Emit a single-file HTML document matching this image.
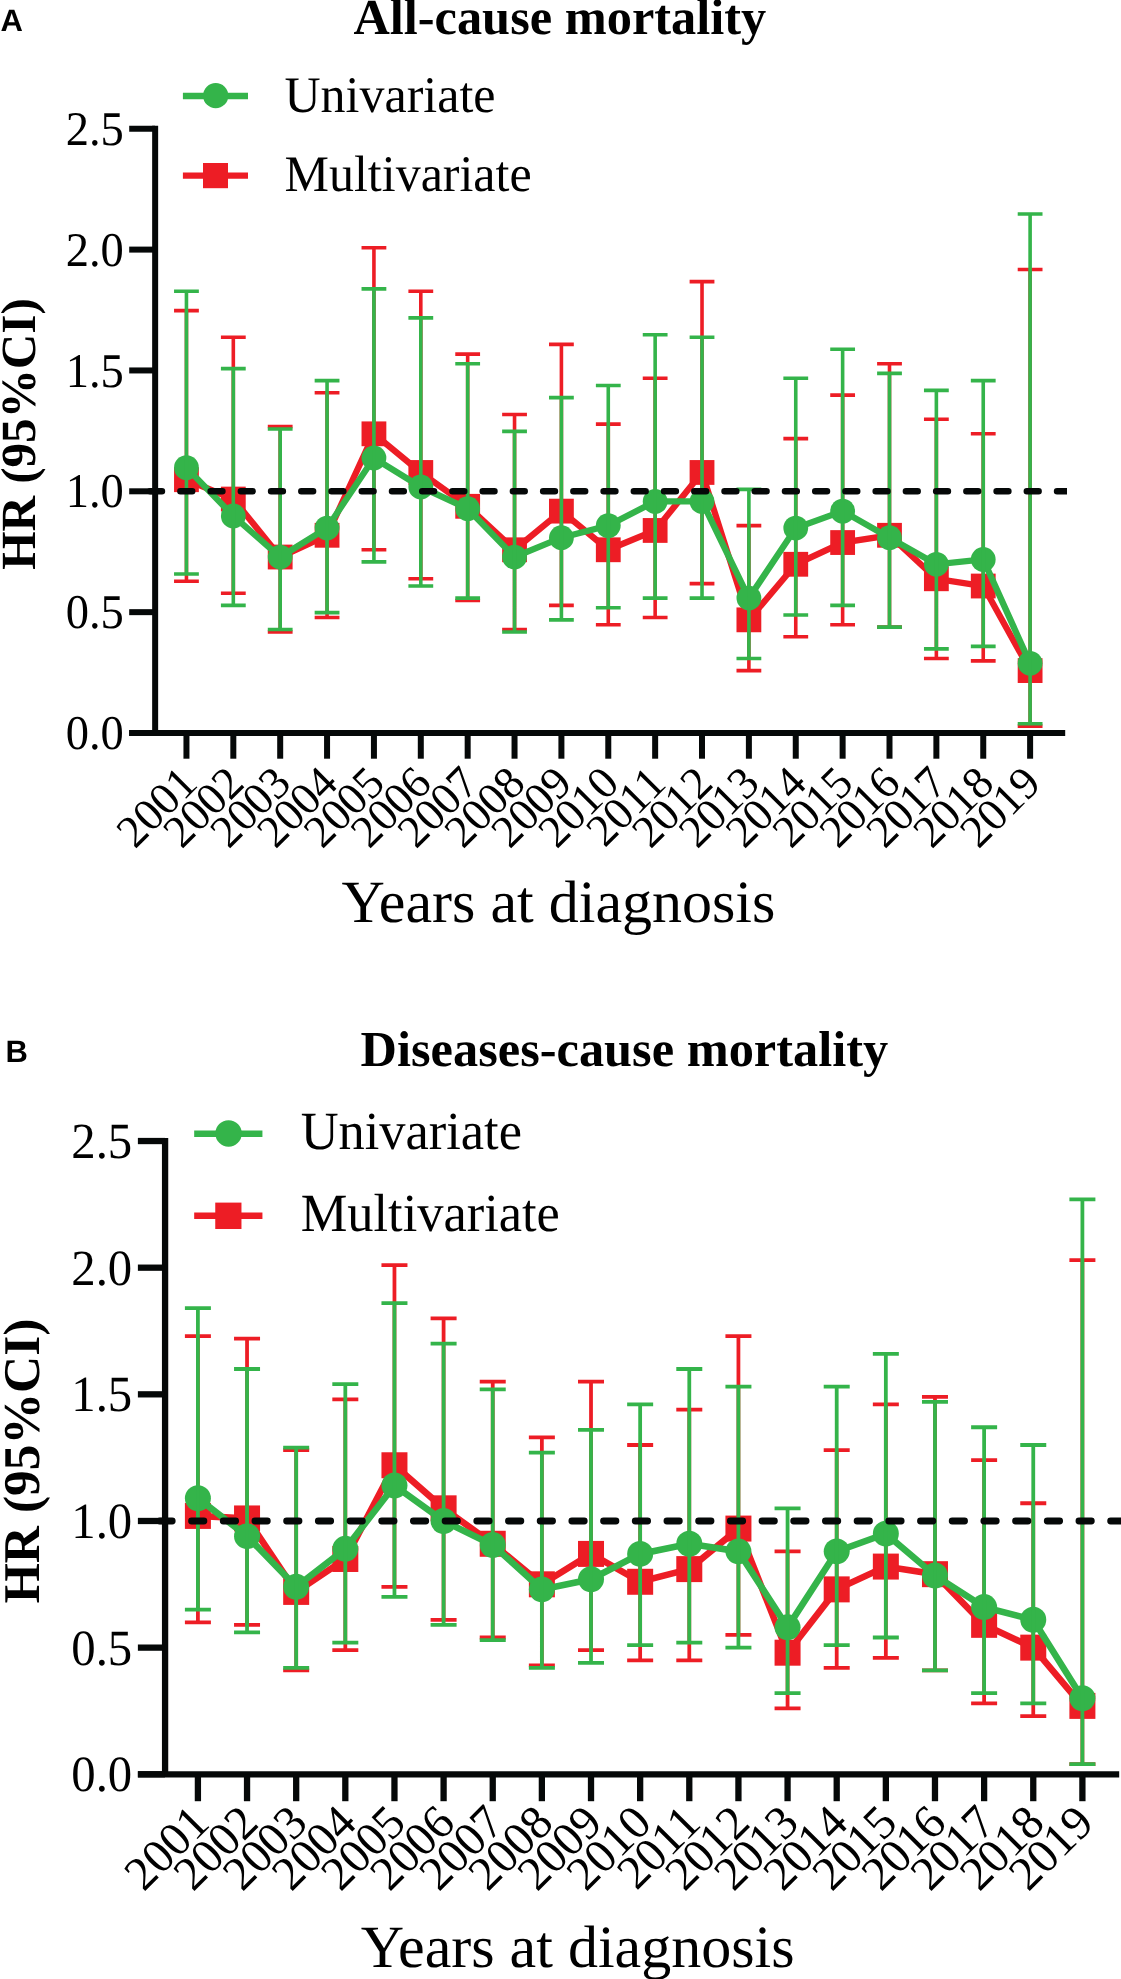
<!DOCTYPE html>
<html><head><meta charset="utf-8">
<style>
html,body{margin:0;padding:0;background:#fff;}
body{width:1121px;height:1979px;overflow:hidden;}
svg{display:block;will-change:transform;}
text{font-family:"Liberation Serif",serif;fill:#000;text-rendering:geometricPrecision;}
.yl{font-size:46.5px;}
.xl{font-size:45.5px;}
.lg{font-size:50px;}
.yt{font-size:49.13px;font-weight:bold;}
.ti{font-size:50.4px;font-weight:bold;}
.xt{font-size:60px;}
.pl{font-family:"Liberation Sans",sans-serif;font-size:31px;font-weight:bold;}
</style></head><body>
<svg width="1121" height="1979" viewBox="0 0 1121 1979">
<defs><clipPath id="clipR"><rect x="0" y="0" width="1067" height="1979"/></clipPath></defs>
<rect width="1121" height="1979" fill="#fff"/>
<text x="0.5" y="30.8" class="pl">A</text>
<text x="353.4" y="33.5" class="ti">All-cause mortality</text>
<g>
<path d="M155.15 125.75 V733.0" stroke="#050808" stroke-width="6.0" fill="none"/>
<path d="M129.2 733.0 H1065.2" stroke="#050808" stroke-width="6.0" fill="none"/>
<path d="M129.2 733 H155" stroke="#050808" stroke-width="6.0" fill="none"/>
<path d="M129.2 612.15 H155" stroke="#050808" stroke-width="6.0" fill="none"/>
<path d="M129.2 491.3 H155" stroke="#050808" stroke-width="6.0" fill="none"/>
<path d="M129.2 370.45 H155" stroke="#050808" stroke-width="6.0" fill="none"/>
<path d="M129.2 249.6 H155" stroke="#050808" stroke-width="6.0" fill="none"/>
<path d="M129.2 128.75 H155" stroke="#050808" stroke-width="6.0" fill="none"/>
<path d="M186.45 733.0 V758.7" stroke="#050808" stroke-width="6.0" fill="none"/>
<path d="M233.32 733.0 V758.7" stroke="#050808" stroke-width="6.0" fill="none"/>
<path d="M280.19 733.0 V758.7" stroke="#050808" stroke-width="6.0" fill="none"/>
<path d="M327.06 733.0 V758.7" stroke="#050808" stroke-width="6.0" fill="none"/>
<path d="M373.93 733.0 V758.7" stroke="#050808" stroke-width="6.0" fill="none"/>
<path d="M420.8 733.0 V758.7" stroke="#050808" stroke-width="6.0" fill="none"/>
<path d="M467.67 733.0 V758.7" stroke="#050808" stroke-width="6.0" fill="none"/>
<path d="M514.54 733.0 V758.7" stroke="#050808" stroke-width="6.0" fill="none"/>
<path d="M561.41 733.0 V758.7" stroke="#050808" stroke-width="6.0" fill="none"/>
<path d="M608.28 733.0 V758.7" stroke="#050808" stroke-width="6.0" fill="none"/>
<path d="M655.15 733.0 V758.7" stroke="#050808" stroke-width="6.0" fill="none"/>
<path d="M702.02 733.0 V758.7" stroke="#050808" stroke-width="6.0" fill="none"/>
<path d="M748.89 733.0 V758.7" stroke="#050808" stroke-width="6.0" fill="none"/>
<path d="M795.76 733.0 V758.7" stroke="#050808" stroke-width="6.0" fill="none"/>
<path d="M842.63 733.0 V758.7" stroke="#050808" stroke-width="6.0" fill="none"/>
<path d="M889.5 733.0 V758.7" stroke="#050808" stroke-width="6.0" fill="none"/>
<path d="M936.37 733.0 V758.7" stroke="#050808" stroke-width="6.0" fill="none"/>
<path d="M983.24 733.0 V758.7" stroke="#050808" stroke-width="6.0" fill="none"/>
<path d="M1030.11 733.0 V758.7" stroke="#050808" stroke-width="6.0" fill="none"/>
<text x="0" y="0" text-anchor="end" class="yl" transform="translate(123.8 749.1) scale(1 1.04)">0.0</text>
<text x="0" y="0" text-anchor="end" class="yl" transform="translate(123.8 628.25) scale(1 1.04)">0.5</text>
<text x="0" y="0" text-anchor="end" class="yl" transform="translate(123.8 507.4) scale(1 1.04)">1.0</text>
<text x="0" y="0" text-anchor="end" class="yl" transform="translate(123.8 386.55) scale(1 1.04)">1.5</text>
<text x="0" y="0" text-anchor="end" class="yl" transform="translate(123.8 265.7) scale(1 1.04)">2.0</text>
<text x="0" y="0" text-anchor="end" class="yl" transform="translate(123.8 144.85) scale(1 1.04)">2.5</text>
<text x="199.25" y="785.3" text-anchor="end" class="xl" transform="rotate(-45 199.25 785.3)">2001</text>
<text x="246.12" y="785.3" text-anchor="end" class="xl" transform="rotate(-45 246.12 785.3)">2002</text>
<text x="292.99" y="785.3" text-anchor="end" class="xl" transform="rotate(-45 292.99 785.3)">2003</text>
<text x="339.86" y="785.3" text-anchor="end" class="xl" transform="rotate(-45 339.86 785.3)">2004</text>
<text x="386.73" y="785.3" text-anchor="end" class="xl" transform="rotate(-45 386.73 785.3)">2005</text>
<text x="433.6" y="785.3" text-anchor="end" class="xl" transform="rotate(-45 433.6 785.3)">2006</text>
<text x="480.47" y="785.3" text-anchor="end" class="xl" transform="rotate(-45 480.47 785.3)">2007</text>
<text x="527.34" y="785.3" text-anchor="end" class="xl" transform="rotate(-45 527.34 785.3)">2008</text>
<text x="574.21" y="785.3" text-anchor="end" class="xl" transform="rotate(-45 574.21 785.3)">2009</text>
<text x="621.08" y="785.3" text-anchor="end" class="xl" transform="rotate(-45 621.08 785.3)">2010</text>
<text x="667.95" y="785.3" text-anchor="end" class="xl" transform="rotate(-45 667.95 785.3)">2011</text>
<text x="714.82" y="785.3" text-anchor="end" class="xl" transform="rotate(-45 714.82 785.3)">2012</text>
<text x="761.69" y="785.3" text-anchor="end" class="xl" transform="rotate(-45 761.69 785.3)">2013</text>
<text x="808.56" y="785.3" text-anchor="end" class="xl" transform="rotate(-45 808.56 785.3)">2014</text>
<text x="855.43" y="785.3" text-anchor="end" class="xl" transform="rotate(-45 855.43 785.3)">2015</text>
<text x="902.3" y="785.3" text-anchor="end" class="xl" transform="rotate(-45 902.3 785.3)">2016</text>
<text x="949.17" y="785.3" text-anchor="end" class="xl" transform="rotate(-45 949.17 785.3)">2017</text>
<text x="996.04" y="785.3" text-anchor="end" class="xl" transform="rotate(-45 996.04 785.3)">2018</text>
<text x="1042.91" y="785.3" text-anchor="end" class="xl" transform="rotate(-45 1042.91 785.3)">2019</text>
<polyline points="186.45,479.72 233.32,499.05 280.19,557.03 327.06,535.29 373.93,433.82 420.8,472.47 467.67,506.3 514.54,549.78 561.41,511.13 608.28,549.78 655.15,530.46 702.02,472.47 748.89,619.85 795.76,564.28 842.63,542.54 889.5,535.29 936.37,578.78 983.24,586.02 1030.11,670.58" fill="none" stroke="#ed1d25" stroke-width="6.3" stroke-linejoin="miter"/>
<rect x="174.05" y="467.32" width="24.8" height="24.8" fill="#ed1d25"/>
<rect x="220.92" y="486.65" width="24.8" height="24.8" fill="#ed1d25"/>
<rect x="267.79" y="544.63" width="24.8" height="24.8" fill="#ed1d25"/>
<rect x="314.66" y="522.89" width="24.8" height="24.8" fill="#ed1d25"/>
<rect x="361.53" y="421.42" width="24.8" height="24.8" fill="#ed1d25"/>
<rect x="408.4" y="460.07" width="24.8" height="24.8" fill="#ed1d25"/>
<rect x="455.27" y="493.9" width="24.8" height="24.8" fill="#ed1d25"/>
<rect x="502.14" y="537.38" width="24.8" height="24.8" fill="#ed1d25"/>
<rect x="549.01" y="498.73" width="24.8" height="24.8" fill="#ed1d25"/>
<rect x="595.88" y="537.38" width="24.8" height="24.8" fill="#ed1d25"/>
<rect x="642.75" y="518.06" width="24.8" height="24.8" fill="#ed1d25"/>
<rect x="689.62" y="460.07" width="24.8" height="24.8" fill="#ed1d25"/>
<rect x="736.49" y="607.45" width="24.8" height="24.8" fill="#ed1d25"/>
<rect x="783.36" y="551.88" width="24.8" height="24.8" fill="#ed1d25"/>
<rect x="830.23" y="530.14" width="24.8" height="24.8" fill="#ed1d25"/>
<rect x="877.1" y="522.89" width="24.8" height="24.8" fill="#ed1d25"/>
<rect x="923.97" y="566.38" width="24.8" height="24.8" fill="#ed1d25"/>
<rect x="970.84" y="573.62" width="24.8" height="24.8" fill="#ed1d25"/>
<rect x="1017.71" y="658.18" width="24.8" height="24.8" fill="#ed1d25"/>
<path d="M186.45 581.19 V310.6 M175.85 310.6 H197.05 M175.85 581.19 H197.05 M233.32 593.27 V337.18 M222.72 337.18 H243.92 M222.72 593.27 H243.92 M280.19 631.93 V426.57 M269.59 426.57 H290.79 M269.59 631.93 H290.79 M327.06 617.43 V392.74 M316.46 392.74 H337.66 M316.46 617.43 H337.66 M373.93 549.78 V247.78 M363.33 247.78 H384.53 M363.33 549.78 H384.53 M420.8 578.78 V291.27 M410.2 291.27 H431.4 M410.2 578.78 H431.4 M467.67 600.52 V354.09 M457.07 354.09 H478.27 M457.07 600.52 H478.27 M514.54 629.51 V414.49 M503.94 414.49 H525.14 M503.94 629.51 H525.14 M561.41 605.35 V344.42 M550.81 344.42 H572.01 M550.81 605.35 H572.01 M608.28 624.68 V424.15 M597.68 424.15 H618.88 M597.68 624.68 H618.88 M655.15 617.43 V378.25 M644.55 378.25 H665.75 M644.55 617.43 H665.75 M702.02 583.61 V281.61 M691.42 281.61 H712.62 M691.42 583.61 H712.62 M748.89 670.58 V525.62 M738.29 525.62 H759.49 M738.29 670.58 H759.49 M795.76 636.76 V438.65 M785.16 438.65 H806.36 M785.16 636.76 H806.36 M842.63 624.68 V395.16 M832.03 395.16 H853.23 M832.03 624.68 H853.23 M889.5 627.1 V363.75 M878.9 363.75 H900.1 M878.9 627.1 H900.1 M936.37 658.5 V419.32 M925.77 419.32 H946.97 M925.77 658.5 H946.97 M983.24 660.92 V433.82 M972.64 433.82 H993.84 M972.64 660.92 H993.84 M1030.11 726.15 V269.53 M1019.51 269.53 H1040.71 M1019.51 726.15 H1040.71" fill="none" stroke="#ed1d25" stroke-width="3.6" stroke-linecap="square"/>
<polyline points="186.45,467.64 233.32,515.96 280.19,557.03 327.06,528.04 373.93,457.98 420.8,486.97 467.67,508.71 514.54,557.03 561.41,537.7 608.28,525.62 655.15,501.46 702.02,501.46 748.89,598.1 795.76,528.04 842.63,511.13 889.5,537.7 936.37,564.28 983.24,559.45 1030.11,663.34" fill="none" stroke="#34b44a" stroke-width="6.3" stroke-linejoin="miter"/>
<circle cx="186.45" cy="467.64" r="12.4" fill="#34b44a"/>
<circle cx="233.32" cy="515.96" r="12.4" fill="#34b44a"/>
<circle cx="280.19" cy="557.03" r="12.4" fill="#34b44a"/>
<circle cx="327.06" cy="528.04" r="12.4" fill="#34b44a"/>
<circle cx="373.93" cy="457.98" r="12.4" fill="#34b44a"/>
<circle cx="420.8" cy="486.97" r="12.4" fill="#34b44a"/>
<circle cx="467.67" cy="508.71" r="12.4" fill="#34b44a"/>
<circle cx="514.54" cy="557.03" r="12.4" fill="#34b44a"/>
<circle cx="561.41" cy="537.7" r="12.4" fill="#34b44a"/>
<circle cx="608.28" cy="525.62" r="12.4" fill="#34b44a"/>
<circle cx="655.15" cy="501.46" r="12.4" fill="#34b44a"/>
<circle cx="702.02" cy="501.46" r="12.4" fill="#34b44a"/>
<circle cx="748.89" cy="598.1" r="12.4" fill="#34b44a"/>
<circle cx="795.76" cy="528.04" r="12.4" fill="#34b44a"/>
<circle cx="842.63" cy="511.13" r="12.4" fill="#34b44a"/>
<circle cx="889.5" cy="537.7" r="12.4" fill="#34b44a"/>
<circle cx="936.37" cy="564.28" r="12.4" fill="#34b44a"/>
<circle cx="983.24" cy="559.45" r="12.4" fill="#34b44a"/>
<circle cx="1030.11" cy="663.34" r="12.4" fill="#34b44a"/>
<path d="M186.45 573.94 V291.27 M175.85 291.27 H197.05 M175.85 573.94 H197.05 M233.32 605.35 V368.58 M222.72 368.58 H243.92 M222.72 605.35 H243.92 M280.19 629.51 V428.98 M269.59 428.98 H290.79 M269.59 629.51 H290.79 M327.06 612.6 V380.66 M316.46 380.66 H337.66 M316.46 612.6 H337.66 M373.93 561.86 V288.86 M363.33 288.86 H384.53 M363.33 561.86 H384.53 M420.8 586.02 V317.85 M410.2 317.85 H431.4 M410.2 586.02 H431.4 M467.67 598.1 V363.75 M457.07 363.75 H478.27 M457.07 598.1 H478.27 M514.54 631.93 V431.4 M503.94 431.4 H525.14 M503.94 631.93 H525.14 M561.41 619.85 V397.58 M550.81 397.58 H572.01 M550.81 619.85 H572.01 M608.28 607.77 V385.5 M597.68 385.5 H618.88 M597.68 607.77 H618.88 M655.15 598.1 V334.76 M644.55 334.76 H665.75 M644.55 598.1 H665.75 M702.02 598.1 V337.18 M691.42 337.18 H712.62 M691.42 598.1 H712.62 M748.89 658.5 V489.38 M738.29 489.38 H759.49 M738.29 658.5 H759.49 M795.76 615.02 V378.25 M785.16 378.25 H806.36 M785.16 615.02 H806.36 M842.63 605.35 V349.26 M832.03 349.26 H853.23 M832.03 605.35 H853.23 M889.5 627.1 V373.42 M878.9 373.42 H900.1 M878.9 627.1 H900.1 M936.37 648.84 V390.33 M925.77 390.33 H946.97 M925.77 648.84 H946.97 M983.24 646.42 V380.66 M972.64 380.66 H993.84 M972.64 646.42 H993.84 M1030.11 723.74 V213.96 M1019.51 213.96 H1040.71 M1019.51 723.74 H1040.71" fill="none" stroke="#34b44a" stroke-width="3.6" stroke-linecap="square"/>
<path d="M150.15 491.3 H1075" stroke="#050808" stroke-width="6.5" stroke-dasharray="11.8 18.43" stroke-linecap="round" fill="none" clip-path="url(#clipR)"/>
<path d="M182.9 96 H248" stroke="#34b44a" stroke-width="6.3"/>
<circle cx="215.7" cy="95.7" r="12.6" fill="#34b44a"/>
<path d="M182.9 175.6 H248" stroke="#ed1d25" stroke-width="6.3"/>
<rect x="203" y="163" width="25" height="25.2" fill="#ed1d25"/>
<text x="0" y="0" class="lg" transform="translate(284.5 111.6) scale(1 1.025)">Univariate</text>
<text x="0" y="0" class="lg" transform="translate(284.5 190.5) scale(1 1.025)">Multivariate</text>
<text x="0" y="0" class="yt" text-anchor="middle" transform="translate(35.3 434.0) rotate(-90)">HR (95%CI)</text>
</g>
<text x="341.5" y="922.4" class="xt">Years at diagnosis</text>
<text x="5.5" y="1061.8" class="pl">B</text>
<text x="360.6" y="1066.2" class="ti">Diseases-cause mortality</text>
<g transform="matrix(1.0484 0 0 1.048 2.43 1006.1)">
<path d="M155.15 125.75 V733.0" stroke="#050808" stroke-width="6.0" fill="none"/>
<path d="M129.2 733.0 H1065.2" stroke="#050808" stroke-width="6.0" fill="none"/>
<path d="M129.2 733 H155" stroke="#050808" stroke-width="6.0" fill="none"/>
<path d="M129.2 612.15 H155" stroke="#050808" stroke-width="6.0" fill="none"/>
<path d="M129.2 491.3 H155" stroke="#050808" stroke-width="6.0" fill="none"/>
<path d="M129.2 370.45 H155" stroke="#050808" stroke-width="6.0" fill="none"/>
<path d="M129.2 249.6 H155" stroke="#050808" stroke-width="6.0" fill="none"/>
<path d="M129.2 128.75 H155" stroke="#050808" stroke-width="6.0" fill="none"/>
<path d="M186.45 733.0 V758.7" stroke="#050808" stroke-width="6.0" fill="none"/>
<path d="M233.32 733.0 V758.7" stroke="#050808" stroke-width="6.0" fill="none"/>
<path d="M280.19 733.0 V758.7" stroke="#050808" stroke-width="6.0" fill="none"/>
<path d="M327.06 733.0 V758.7" stroke="#050808" stroke-width="6.0" fill="none"/>
<path d="M373.93 733.0 V758.7" stroke="#050808" stroke-width="6.0" fill="none"/>
<path d="M420.8 733.0 V758.7" stroke="#050808" stroke-width="6.0" fill="none"/>
<path d="M467.67 733.0 V758.7" stroke="#050808" stroke-width="6.0" fill="none"/>
<path d="M514.54 733.0 V758.7" stroke="#050808" stroke-width="6.0" fill="none"/>
<path d="M561.41 733.0 V758.7" stroke="#050808" stroke-width="6.0" fill="none"/>
<path d="M608.28 733.0 V758.7" stroke="#050808" stroke-width="6.0" fill="none"/>
<path d="M655.15 733.0 V758.7" stroke="#050808" stroke-width="6.0" fill="none"/>
<path d="M702.02 733.0 V758.7" stroke="#050808" stroke-width="6.0" fill="none"/>
<path d="M748.89 733.0 V758.7" stroke="#050808" stroke-width="6.0" fill="none"/>
<path d="M795.76 733.0 V758.7" stroke="#050808" stroke-width="6.0" fill="none"/>
<path d="M842.63 733.0 V758.7" stroke="#050808" stroke-width="6.0" fill="none"/>
<path d="M889.5 733.0 V758.7" stroke="#050808" stroke-width="6.0" fill="none"/>
<path d="M936.37 733.0 V758.7" stroke="#050808" stroke-width="6.0" fill="none"/>
<path d="M983.24 733.0 V758.7" stroke="#050808" stroke-width="6.0" fill="none"/>
<path d="M1030.11 733.0 V758.7" stroke="#050808" stroke-width="6.0" fill="none"/>
<text x="0" y="0" text-anchor="end" class="yl" transform="translate(123.8 749.1) scale(1 1.04)">0.0</text>
<text x="0" y="0" text-anchor="end" class="yl" transform="translate(123.8 628.25) scale(1 1.04)">0.5</text>
<text x="0" y="0" text-anchor="end" class="yl" transform="translate(123.8 507.4) scale(1 1.04)">1.0</text>
<text x="0" y="0" text-anchor="end" class="yl" transform="translate(123.8 386.55) scale(1 1.04)">1.5</text>
<text x="0" y="0" text-anchor="end" class="yl" transform="translate(123.8 265.7) scale(1 1.04)">2.0</text>
<text x="0" y="0" text-anchor="end" class="yl" transform="translate(123.8 144.85) scale(1 1.04)">2.5</text>
<text x="199.25" y="781.5" text-anchor="end" class="xl" transform="rotate(-45 199.25 781.5)">2001</text>
<text x="246.12" y="781.5" text-anchor="end" class="xl" transform="rotate(-45 246.12 781.5)">2002</text>
<text x="292.99" y="781.5" text-anchor="end" class="xl" transform="rotate(-45 292.99 781.5)">2003</text>
<text x="339.86" y="781.5" text-anchor="end" class="xl" transform="rotate(-45 339.86 781.5)">2004</text>
<text x="386.73" y="781.5" text-anchor="end" class="xl" transform="rotate(-45 386.73 781.5)">2005</text>
<text x="433.6" y="781.5" text-anchor="end" class="xl" transform="rotate(-45 433.6 781.5)">2006</text>
<text x="480.47" y="781.5" text-anchor="end" class="xl" transform="rotate(-45 480.47 781.5)">2007</text>
<text x="527.34" y="781.5" text-anchor="end" class="xl" transform="rotate(-45 527.34 781.5)">2008</text>
<text x="574.21" y="781.5" text-anchor="end" class="xl" transform="rotate(-45 574.21 781.5)">2009</text>
<text x="621.08" y="781.5" text-anchor="end" class="xl" transform="rotate(-45 621.08 781.5)">2010</text>
<text x="667.95" y="781.5" text-anchor="end" class="xl" transform="rotate(-45 667.95 781.5)">2011</text>
<text x="714.82" y="781.5" text-anchor="end" class="xl" transform="rotate(-45 714.82 781.5)">2012</text>
<text x="761.69" y="781.5" text-anchor="end" class="xl" transform="rotate(-45 761.69 781.5)">2013</text>
<text x="808.56" y="781.5" text-anchor="end" class="xl" transform="rotate(-45 808.56 781.5)">2014</text>
<text x="855.43" y="781.5" text-anchor="end" class="xl" transform="rotate(-45 855.43 781.5)">2015</text>
<text x="902.3" y="781.5" text-anchor="end" class="xl" transform="rotate(-45 902.3 781.5)">2016</text>
<text x="949.17" y="781.5" text-anchor="end" class="xl" transform="rotate(-45 949.17 781.5)">2017</text>
<text x="996.04" y="781.5" text-anchor="end" class="xl" transform="rotate(-45 996.04 781.5)">2018</text>
<text x="1042.91" y="781.5" text-anchor="end" class="xl" transform="rotate(-45 1042.91 781.5)">2019</text>
<polyline points="186.45,486.47 233.32,488.88 280.19,558.98 327.06,527.56 373.93,438.13 420.8,479.22 467.67,513.05 514.54,551.73 561.41,522.72 608.28,549.31 655.15,537.22 702.02,498.55 748.89,616.98 795.76,556.56 842.63,534.81 889.5,542.06 936.37,590.4 983.24,612.15 1030.11,667.74" fill="none" stroke="#ed1d25" stroke-width="6.3" stroke-linejoin="miter"/>
<rect x="174.05" y="474.07" width="24.8" height="24.8" fill="#ed1d25"/>
<rect x="220.92" y="476.48" width="24.8" height="24.8" fill="#ed1d25"/>
<rect x="267.79" y="546.58" width="24.8" height="24.8" fill="#ed1d25"/>
<rect x="314.66" y="515.16" width="24.8" height="24.8" fill="#ed1d25"/>
<rect x="361.53" y="425.73" width="24.8" height="24.8" fill="#ed1d25"/>
<rect x="408.4" y="466.82" width="24.8" height="24.8" fill="#ed1d25"/>
<rect x="455.27" y="500.65" width="24.8" height="24.8" fill="#ed1d25"/>
<rect x="502.14" y="539.33" width="24.8" height="24.8" fill="#ed1d25"/>
<rect x="549.01" y="510.32" width="24.8" height="24.8" fill="#ed1d25"/>
<rect x="595.88" y="536.91" width="24.8" height="24.8" fill="#ed1d25"/>
<rect x="642.75" y="524.82" width="24.8" height="24.8" fill="#ed1d25"/>
<rect x="689.62" y="486.15" width="24.8" height="24.8" fill="#ed1d25"/>
<rect x="736.49" y="604.58" width="24.8" height="24.8" fill="#ed1d25"/>
<rect x="783.36" y="544.16" width="24.8" height="24.8" fill="#ed1d25"/>
<rect x="830.23" y="522.41" width="24.8" height="24.8" fill="#ed1d25"/>
<rect x="877.1" y="529.66" width="24.8" height="24.8" fill="#ed1d25"/>
<rect x="923.97" y="578" width="24.8" height="24.8" fill="#ed1d25"/>
<rect x="970.84" y="599.75" width="24.8" height="24.8" fill="#ed1d25"/>
<rect x="1017.71" y="655.34" width="24.8" height="24.8" fill="#ed1d25"/>
<path d="M186.45 587.98 V314.86 M175.85 314.86 H197.05 M175.85 587.98 H197.05 M233.32 590.4 V317.28 M222.72 317.28 H243.92 M222.72 590.4 H243.92 M280.19 633.9 V423.62 M269.59 423.62 H290.79 M269.59 633.9 H290.79 M327.06 614.57 V375.28 M316.46 375.28 H337.66 M316.46 614.57 H337.66 M373.93 554.14 V247.18 M363.33 247.18 H384.53 M363.33 554.14 H384.53 M420.8 585.56 V297.94 M410.2 297.94 H431.4 M410.2 585.56 H431.4 M467.67 602.48 V358.37 M457.07 358.37 H478.27 M457.07 602.48 H478.27 M514.54 629.07 V411.54 M503.94 411.54 H525.14 M503.94 629.07 H525.14 M561.41 614.57 V358.37 M550.81 358.37 H572.01 M550.81 614.57 H572.01 M608.28 624.24 V418.79 M597.68 418.79 H618.88 M597.68 624.24 H618.88 M655.15 624.24 V384.95 M644.55 384.95 H665.75 M644.55 624.24 H665.75 M702.02 600.07 V314.86 M691.42 314.86 H712.62 M691.42 600.07 H712.62 M748.89 670.16 V520.3 M738.29 520.3 H759.49 M738.29 670.16 H759.49 M795.76 631.49 V423.62 M785.16 423.62 H806.36 M785.16 631.49 H806.36 M842.63 621.82 V380.12 M832.03 380.12 H853.23 M832.03 621.82 H853.23 M889.5 633.9 V372.87 M878.9 372.87 H900.1 M878.9 633.9 H900.1 M936.37 665.32 V433.29 M925.77 433.29 H946.97 M925.77 665.32 H946.97 M983.24 677.41 V474.38 M972.64 474.38 H993.84 M972.64 677.41 H993.84 M1030.11 723.33 V242.35 M1019.51 242.35 H1040.71 M1019.51 723.33 H1040.71" fill="none" stroke="#ed1d25" stroke-width="3.6" stroke-linecap="square"/>
<polyline points="186.45,469.55 233.32,505.8 280.19,554.14 327.06,517.89 373.93,457.46 420.8,491.3 467.67,514.26 514.54,556.56 561.41,546.89 608.28,522.72 655.15,513.05 702.02,520.3 748.89,592.81 795.76,520.3 842.63,503.38 889.5,543.27 936.37,573.48 983.24,585.56 1030.11,660.49" fill="none" stroke="#34b44a" stroke-width="6.3" stroke-linejoin="miter"/>
<circle cx="186.45" cy="469.55" r="12.4" fill="#34b44a"/>
<circle cx="233.32" cy="505.8" r="12.4" fill="#34b44a"/>
<circle cx="280.19" cy="554.14" r="12.4" fill="#34b44a"/>
<circle cx="327.06" cy="517.89" r="12.4" fill="#34b44a"/>
<circle cx="373.93" cy="457.46" r="12.4" fill="#34b44a"/>
<circle cx="420.8" cy="491.3" r="12.4" fill="#34b44a"/>
<circle cx="467.67" cy="514.26" r="12.4" fill="#34b44a"/>
<circle cx="514.54" cy="556.56" r="12.4" fill="#34b44a"/>
<circle cx="561.41" cy="546.89" r="12.4" fill="#34b44a"/>
<circle cx="608.28" cy="522.72" r="12.4" fill="#34b44a"/>
<circle cx="655.15" cy="513.05" r="12.4" fill="#34b44a"/>
<circle cx="702.02" cy="520.3" r="12.4" fill="#34b44a"/>
<circle cx="748.89" cy="592.81" r="12.4" fill="#34b44a"/>
<circle cx="795.76" cy="520.3" r="12.4" fill="#34b44a"/>
<circle cx="842.63" cy="503.38" r="12.4" fill="#34b44a"/>
<circle cx="889.5" cy="543.27" r="12.4" fill="#34b44a"/>
<circle cx="936.37" cy="573.48" r="12.4" fill="#34b44a"/>
<circle cx="983.24" cy="585.56" r="12.4" fill="#34b44a"/>
<circle cx="1030.11" cy="660.49" r="12.4" fill="#34b44a"/>
<path d="M186.45 575.89 V288.27 M175.85 288.27 H197.05 M175.85 575.89 H197.05 M233.32 597.65 V346.28 M222.72 346.28 H243.92 M222.72 597.65 H243.92 M280.19 631.49 V421.21 M269.59 421.21 H290.79 M269.59 631.49 H290.79 M327.06 607.32 V360.78 M316.46 360.78 H337.66 M316.46 607.32 H337.66 M373.93 563.81 V283.44 M363.33 283.44 H384.53 M363.33 563.81 H384.53 M420.8 590.4 V322.11 M410.2 322.11 H431.4 M410.2 590.4 H431.4 M467.67 604.9 V365.62 M457.07 365.62 H478.27 M457.07 604.9 H478.27 M514.54 631.49 V426.04 M503.94 426.04 H525.14 M503.94 631.49 H525.14 M561.41 626.65 V404.29 M550.81 404.29 H572.01 M550.81 626.65 H572.01 M608.28 609.73 V380.12 M597.68 380.12 H618.88 M597.68 609.73 H618.88 M655.15 607.32 V346.28 M644.55 346.28 H665.75 M644.55 607.32 H665.75 M702.02 612.15 V363.2 M691.42 363.2 H712.62 M691.42 612.15 H712.62 M748.89 655.66 V479.22 M738.29 479.22 H759.49 M738.29 655.66 H759.49 M795.76 609.73 V363.2 M785.16 363.2 H806.36 M785.16 609.73 H806.36 M842.63 602.48 V331.78 M832.03 331.78 H853.23 M832.03 602.48 H853.23 M889.5 633.9 V377.7 M878.9 377.7 H900.1 M878.9 633.9 H900.1 M936.37 655.66 V401.87 M925.77 401.87 H946.97 M925.77 655.66 H946.97 M983.24 665.32 V418.79 M972.64 418.79 H993.84 M972.64 665.32 H993.84 M1030.11 723.33 V184.34 M1019.51 184.34 H1040.71 M1019.51 723.33 H1040.71" fill="none" stroke="#34b44a" stroke-width="3.6" stroke-linecap="square"/>
<path d="M150.15 491.3 H1075" stroke="#050808" stroke-width="6.5" stroke-dasharray="11.8 18.43" stroke-linecap="round" fill="none" clip-path="url(#clipR)"/>
<path d="M182.9 121.8 H248" stroke="#34b44a" stroke-width="6.3"/>
<circle cx="215.7" cy="121.5" r="12.6" fill="#34b44a"/>
<path d="M182.9 200.1 H248" stroke="#ed1d25" stroke-width="6.3"/>
<rect x="203" y="187.5" width="25" height="25.2" fill="#ed1d25"/>
<text x="0" y="0" class="lg" transform="translate(284.5 136.1) scale(1 1.025)">Univariate</text>
<text x="0" y="0" class="lg" transform="translate(284.5 215) scale(1 1.025)">Multivariate</text>
<text x="0" y="0" class="yt" text-anchor="middle" transform="translate(35.3 434.0) rotate(-90)">HR (95%CI)</text>
</g>
<text x="360.7" y="1967.1" class="xt">Years at diagnosis</text>
</svg>
</body></html>
